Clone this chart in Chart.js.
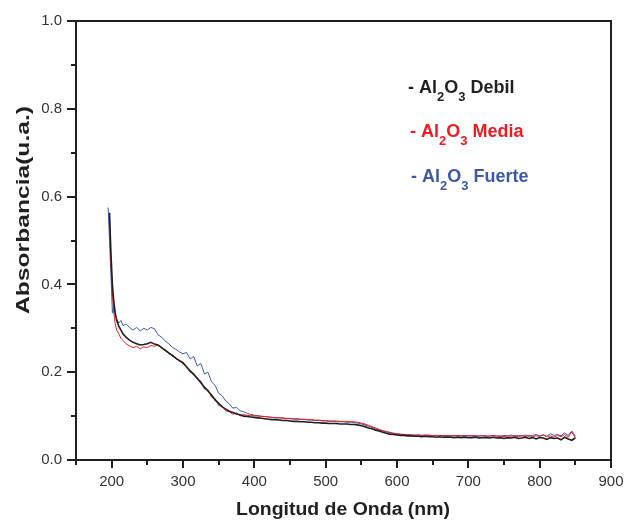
<!DOCTYPE html>
<html>
<head>
<meta charset="utf-8">
<script src="https://cdn.jsdelivr.net/npm/chart.js@4.4.1/dist/chart.umd.min.js"></script>
<style>
  html, body { margin: 0; padding: 0; background: #ffffff; }
  #wrap { width: 627px; height: 521px; }
</style>
</head>
<body>
<div id="wrap"><canvas id="c" width="627" height="521"></canvas></div>
<script>
// Wavelengths (nm)
const wavelength = [195,197,199,201,203,205,207,210,213,216,220,
  225,230,235,240,245,250,255,260,265,270,
  275,280,285,290,295,300,305,310,315,320,
  325,330,335,340,345,350,355,360,365,370,
  375,380,385,390,395,400,405,410,415,420,
  425,430,435,440,445,450,455,460,465,470,
  475,480,485,490,495,500,505,510,515,520,
  525,530,535,540,545,550,555,560,565,570,
  575,580,585,590,595,600,605,610,615,620,
  625,630,635,640,645,650,655,660,665,670,
  675,680,685,690,695,700,705,710,715,720,
  725,730,735,740,745,750,755,760,765,770,
  775,780,785,790,795,800,805,810,815,820,
  825,830,835,840,845,850];

// Al2O3 Debil (black)
const debil = [null,0.563,0.47,0.40,0.36,0.335,0.318,0.305,0.296,0.287,0.28,
  0.273,0.268,0.265,0.262,0.263,0.265,0.268,0.264,0.262,0.256,
  0.250,0.244,0.238,0.232,0.226,0.222,0.212,0.203,0.195,0.186,
  0.176,0.166,0.157,0.148,0.137,0.129,0.121,0.116,0.111,0.108,
  0.105,0.103,0.100,0.099,0.098,0.097,0.096,0.095,0.094,0.093,
  0.092,0.092,0.091,0.090,0.090,0.089,0.088,0.088,0.087,0.087,
  0.086,0.086,0.085,0.085,0.084,0.084,0.083,0.083,0.083,0.082,
  0.082,0.082,0.081,0.081,0.080,0.078,0.076,0.073,0.071,0.068,
  0.066,0.063,0.061,0.059,0.058,0.057,0.056,0.056,0.055,0.055,
  0.054,0.054,0.053,0.054,0.053,0.053,0.052,0.053,0.052,0.052,
  0.052,0.051,0.052,0.051,0.052,0.051,0.051,0.052,0.050,0.051,
  0.051,0.050,0.052,0.050,0.051,0.049,0.051,0.050,0.052,0.049,
  0.050,0.052,0.049,0.051,0.048,0.051,0.050,0.047,0.051,0.049,
  0.050,0.046,0.052,0.048,0.045,0.050];

// Al2O3 Media (red)
const media = [null,0.55,0.45,0.38,0.335,0.31,0.296,0.287,0.277,0.272,0.265,
  0.260,0.256,0.259,0.253,0.258,0.256,0.261,0.259,0.262,0.255,
  0.251,0.242,0.240,0.230,0.228,0.218,0.214,0.200,0.197,0.184,
  0.180,0.162,0.160,0.143,0.140,0.124,0.123,0.112,0.110,0.104,
  0.108,0.100,0.104,0.101,0.102,0.101,0.100,0.099,0.099,0.098,
  0.097,0.097,0.096,0.096,0.095,0.095,0.094,0.094,0.093,0.093,
  0.092,0.092,0.091,0.091,0.090,0.090,0.089,0.089,0.089,0.088,
  0.088,0.088,0.087,0.087,0.086,0.084,0.082,0.079,0.076,0.073,
  0.070,0.067,0.065,0.063,0.061,0.060,0.059,0.058,0.058,0.057,
  0.057,0.057,0.056,0.057,0.056,0.056,0.056,0.055,0.056,0.055,
  0.055,0.056,0.055,0.055,0.054,0.056,0.055,0.054,0.055,0.055,
  0.054,0.055,0.056,0.054,0.055,0.053,0.055,0.054,0.056,0.053,
  0.055,0.054,0.056,0.053,0.055,0.054,0.057,0.053,0.055,0.052,
  0.056,0.053,0.058,0.052,0.064,0.050];

// Al2O3 Fuerte (blue)
const fuerte = [0.575,0.50,0.42,0.335,0.352,0.33,0.322,0.312,0.318,0.306,0.31,
  0.302,0.296,0.302,0.294,0.300,0.296,0.302,0.299,0.285,0.280,
  0.271,0.265,0.257,0.252,0.246,0.242,0.245,0.230,0.236,0.214,
  0.220,0.196,0.200,0.178,0.170,0.152,0.146,0.134,0.128,0.118,
  0.120,0.112,0.110,0.106,0.104,0.102,0.101,0.100,0.099,0.098,
  0.097,0.096,0.096,0.095,0.094,0.094,0.093,0.093,0.092,0.092,
  0.091,0.091,0.090,0.090,0.089,0.089,0.088,0.088,0.087,0.087,
  0.087,0.086,0.086,0.085,0.084,0.082,0.080,0.077,0.074,0.071,
  0.068,0.066,0.064,0.062,0.060,0.059,0.058,0.058,0.057,0.057,
  0.056,0.057,0.056,0.056,0.057,0.055,0.056,0.056,0.055,0.056,
  0.056,0.055,0.056,0.055,0.056,0.055,0.055,0.056,0.054,0.056,
  0.055,0.054,0.056,0.055,0.054,0.056,0.055,0.057,0.054,0.056,
  0.055,0.057,0.054,0.056,0.058,0.055,0.057,0.054,0.060,0.056,
  0.058,0.055,0.062,0.056,0.066,0.054];

const xTickLabels = [200,300,400,500,600,700,800,900];
const yTickLabels = ['0.0','0.2','0.4','0.6','0.8','1.0'];
const seriesNames = ['Debil','Media','Fuerte'];
const seriesColors = ['#231f20','#ed1c24','#3c58a8'];

function pts(arr) {
  return wavelength.map((w, i) => ({ x: w, y: arr[i] }));
}

const AXIS = '#231f20';
const FONT = '"Liberation Sans", Arial, Helvetica, sans-serif';

function stretchedText(ctx, text, cx, cy, targetW) {
  const w = ctx.measureText(text).width;
  const k = targetW / w;
  ctx.save();
  ctx.translate(cx, cy);
  ctx.scale(k, 1);
  ctx.fillText(text, 0, 0);
  ctx.restore();
}

const decor = {
  id: 'decor',
  afterDraw(chart) {
    const ctx = chart.ctx;
    const a = chart.chartArea;
    const xs = chart.scales.x, ys = chart.scales.y;
    ctx.save();
    // frame
    ctx.strokeStyle = AXIS;
    ctx.lineWidth = 2;
    ctx.strokeRect(a.left, a.top, a.right - a.left, a.bottom - a.top);
    // x ticks
    xs.ticks.forEach(t => {
      const px = Math.round(xs.getPixelForValue(t.value));
      const major = xTickLabels.includes(t.value);
      const len = major ? 8 : 5;
      ctx.beginPath();
      ctx.moveTo(px, a.bottom);
      ctx.lineTo(px, a.bottom + len);
      ctx.stroke();
    });
    ys.ticks.forEach(t => {
      const py = Math.round(ys.getPixelForValue(t.value));
      const major = Math.round(t.value * 10) % 2 === 0;
      const len = major ? 9 : 5;
      ctx.beginPath();
      ctx.moveTo(a.left, py);
      ctx.lineTo(a.left - len, py);
      ctx.stroke();
    });
    // axis titles
    ctx.fillStyle = '#231f20';
    ctx.font = 'bold 18px ' + FONT;
    ctx.textAlign = 'center';
    ctx.textBaseline = 'middle';
    stretchedText(ctx, 'Longitud de Onda (nm)', 343, 510, 214);
    ctx.save();
    ctx.translate(24, 210);
    ctx.rotate(-Math.PI / 2);
    stretchedText(ctx, 'Absorbancia(u.a.)', 0, 0, 208);
    ctx.restore();
    // in-plot legend with subscripts
    const rows = [[408, 93], [410, 137], [411, 182]];
    ctx.textAlign = 'left';
    ctx.textBaseline = 'alphabetic';
    rows.forEach((r, i) => {
      let x = r[0];
      const y = r[1];
      ctx.fillStyle = seriesColors[i];
      const parts = [['- Al', false], ['2', true], ['O', false], ['3', true], [' ' + seriesNames[i], false]];
      parts.forEach(p => {
        ctx.font = p[1] ? 'bold 13px ' + FONT : 'bold 18px ' + FONT;
        ctx.fillText(p[0], x, p[1] ? y + 8 : y);
        x += ctx.measureText(p[0]).width;
      });
    });
    ctx.restore();
  }
};

new Chart(document.getElementById('c'), {
  type: 'line',
  data: {
    datasets: [
      { label: 'Al2O3 Debil', data: pts(debil), borderColor: seriesColors[0], borderWidth: 1.6 },
      { label: 'Al2O3 Media', data: pts(media), borderColor: seriesColors[1], borderWidth: 1 },
      { label: 'Al2O3 Fuerte', data: pts(fuerte), borderColor: seriesColors[2], borderWidth: 1 }
    ]
  },
  options: {
    responsive: false,
    animation: false,
    elements: { point: { radius: 0 }, line: { tension: 0, fill: false } },
    layout: { padding: { top: 21, right: 16, left: 0, bottom: 0 } },
    plugins: { legend: { display: false }, tooltip: { enabled: false } },
    scales: {
      x: {
        type: 'linear', min: 150, max: 900,
        grid: { display: false, drawTicks: false },
        border: { display: false },
        afterFit: s => { s.height = 61; s.paddingLeft = 0; s.paddingRight = 0; },
        ticks: {
          stepSize: 50, autoSkip: false, maxRotation: 0, padding: 13,
          color: '#333333', font: { family: FONT, size: 15 },
          callback: v => xTickLabels.includes(v) ? String(v) : ''
        }
      },
      y: {
        type: 'linear', min: 0, max: 1,
        grid: { display: false, drawTicks: false },
        border: { display: false },
        afterFit: s => { s.width = 76; s.paddingTop = 0; s.paddingBottom = 0; },
        ticks: {
          stepSize: 0.1, autoSkip: false, padding: 14,
          color: '#333333', font: { family: FONT, size: 15 },
          callback: v => { const k = Math.round(v * 10); return k % 2 === 0 ? yTickLabels[k / 2] : ''; }
        }
      }
    }
  },
  plugins: [decor]
});
</script>
</body>
</html>
